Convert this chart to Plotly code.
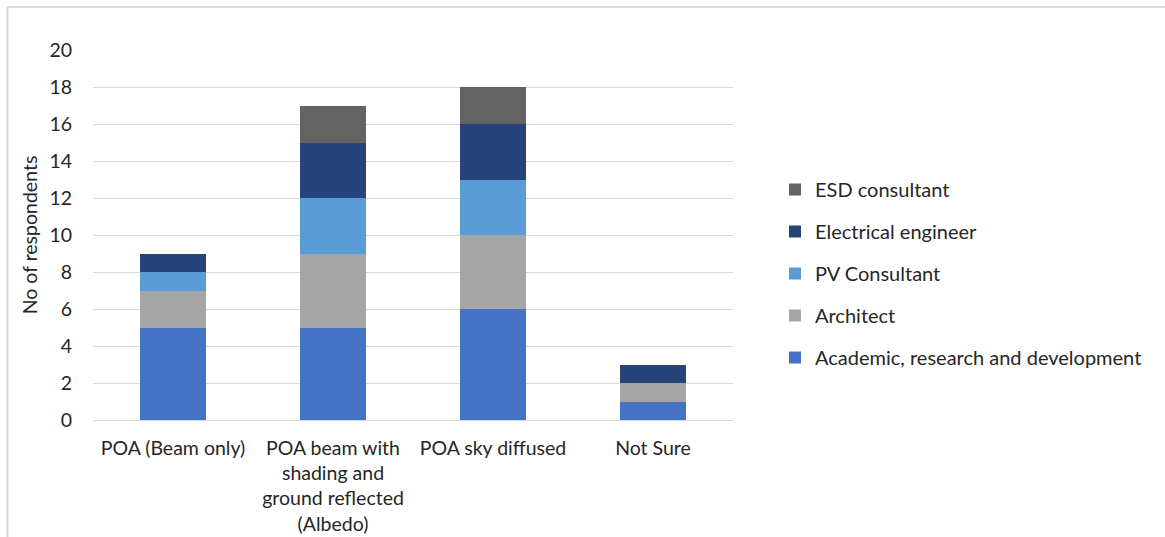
import plotly.graph_objects as go

categories = [
    "POA (Beam only)",
    "POA beam with<br>shading and<br>ground reflected<br>(Albedo)",
    "POA sky diffused",
    "Not Sure",
]

academic = [5, 5, 6, 1]
architect = [2, 4, 4, 1]
pv_consultant = [1, 3, 3, 0]
electrical = [1, 3, 3, 1]
esd = [0, 2, 2, 0]

series = [
    ("Academic, research and development", academic, "#4472C4"),
    ("Architect", architect, "#A5A5A5"),
    ("PV Consultant", pv_consultant, "#5B9BD5"),
    ("Electrical engineer", electrical, "#264478"),
    ("ESD consultant", esd, "#636363"),
]

FONT = "Lato, Open Sans, sans-serif"
FS = 19.5
FS_LEG = 20

fig = go.Figure()
for i, (name, vals, color) in enumerate(series):
    fig.add_trace(go.Bar(
        name=name,
        x=categories,
        y=vals,
        marker=dict(color=color, line=dict(width=0)),
        legendgroup=name,
        legendrank=len(series) - i,
    ))

# plot area geometry (pixels) used for the outer frame lines
W, H = 1165, 537
ml, mr, mt, mb = 93, 432, 50, 117
pw, ph = W - ml - mr, H - mt - mb

def px_x(p):
    return (p - ml) / pw

def px_y(p):
    return (H - mb - p) / ph

frame = dict(color="#D9D9D9", width=2)
shapes = [
    dict(type="line", xref="paper", yref="paper",
         x0=px_x(7.5), x1=px_x(W + 5), y0=px_y(7), y1=px_y(7), line=frame),
    dict(type="line", xref="paper", yref="paper",
         x0=px_x(7.5), x1=px_x(7.5), y0=px_y(7), y1=px_y(H + 5), line=frame),
]

fig.update_layout(
    width=W, height=H,
    barmode="stack",
    bargap=0.59,
    plot_bgcolor="white",
    paper_bgcolor="white",
    margin=dict(l=ml, r=mr, t=mt, b=mb),
    font=dict(family=FONT, size=FS, color="#262626"),
    shapes=shapes,
    showlegend=True,
    legend=dict(
        traceorder="grouped",
        tracegroupgap=13,
        x=px_x(775), xanchor="left",
        y=px_y(170), yanchor="top",
        font=dict(family=FONT, size=FS_LEG, color="#262626"),
        itemwidth=30,
        bgcolor="rgba(0,0,0,0)",
    ),
    xaxis=dict(
        automargin=False,
        showgrid=False,
        showline=False,
        ticks="",
        ticklabelstandoff=14,
        tickfont=dict(family=FONT, size=FS, color="#262626"),
    ),
    yaxis=dict(
        automargin=False,
        range=[0, 20],
        dtick=2,
        showgrid=True,
        gridcolor="#D9D9D9",
        gridwidth=1,
        zeroline=True,
        zerolinecolor="#D9D9D9",
        zerolinewidth=1,
        showline=False,
        ticks="",
        ticklabelstandoff=20,
        tickfont=dict(family=FONT, size=FS, color="#262626"),
        title=dict(text="No of respondents", standoff=6,
                   font=dict(family=FONT, size=FS, color="#262626")),
    ),
)

fig.write_html("out.html")
